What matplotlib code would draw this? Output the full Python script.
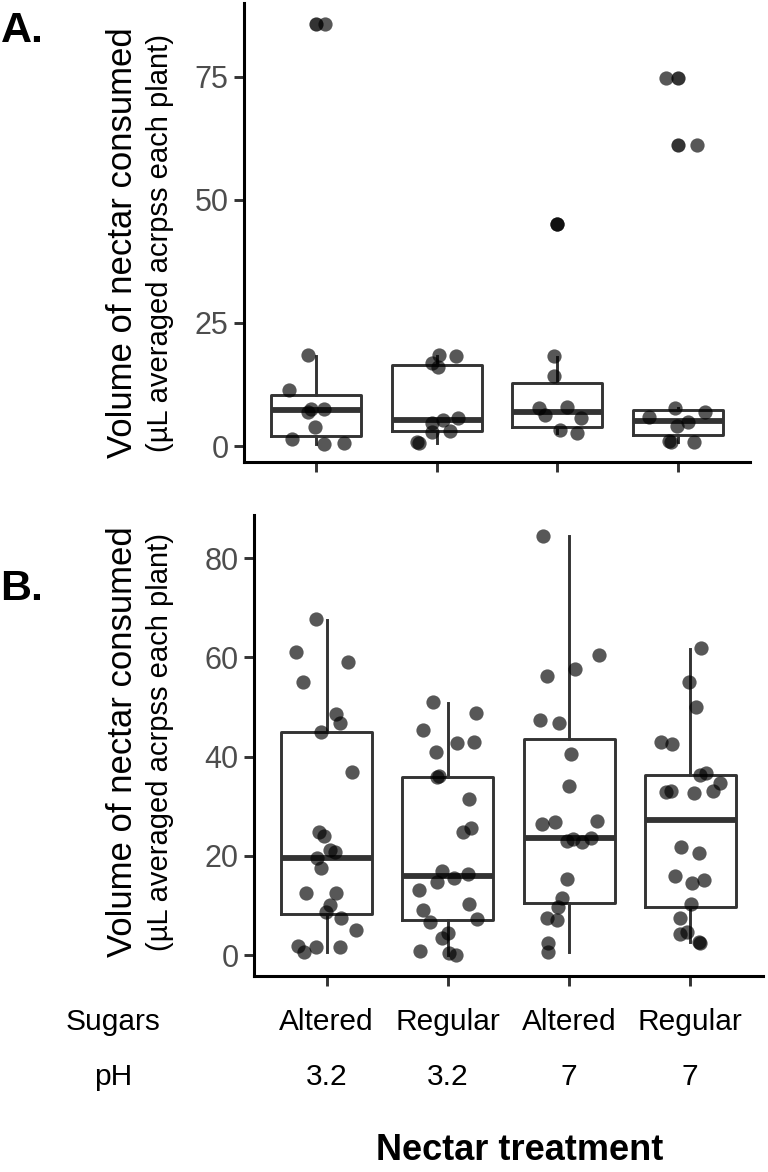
import matplotlib
matplotlib.use('Agg')
import matplotlib.pyplot as plt
import matplotlib.transforms as mtransforms

plt.rcParams['font.family'] = ['Liberation Sans', 'DejaVu Sans']

# ---------------- data ----------------
sugars = ['Altered', 'Regular', 'Altered', 'Regular']
ph_vals = ['3.2', '3.2', '7', '7']
a_yticks = [0, 25, 50, 75]
b_yticks = [0, 20, 40, 60, 80]

# Panel A box statistics
a_whislo = [0.5, 0.7, 2.6, 0.9]
a_q1 = [2.1, 3.1, 3.9, 2.2]
a_med = [7.25, 5.3, 6.9, 5.1]
a_q3 = [10.4, 16.5, 12.7, 7.3]
a_whishi = [18.3, 18.3, 18.0, 7.7]
a_outliers = [[85.8], [], [45.1], [74.7, 61.2]]

# Panel A jittered points (values, horizontal jitter)
a1_vals = [85.8, 18.4, 11.4, 7.0, 7.6, 7.6, 3.9, 1.35, 0.5, 0.7]
a1_jit = [0.072, -0.072, -0.224, -0.072, -0.044, 0.060, -0.008, -0.201, 0.060, 0.226]
a2_vals = [18.5, 18.2, 16.9, 16.1, 4.7, 5.3, 5.6, 2.9, 3.1, 0.9, 0.7]
a2_jit = [0.019, 0.157, -0.041, 0.013, -0.036, 0.055, 0.176, -0.041, 0.108, -0.161, -0.151]
a3_vals = [45.1, 18.2, 14.2, 7.7, 8.0, 6.3, 5.6, 3.25, 2.6]
a3_jit = [0.0, -0.025, -0.025, -0.152, 0.083, -0.102, 0.194, 0.022, 0.161]
a4_vals = [74.7, 61.2, 7.7, 7.0, 5.8, 4.9, 4.1, 1.0, 0.9, 0.9]
a4_jit = [-0.094, 0.163, -0.019, 0.224, -0.240, 0.083, -0.006, -0.075, -0.058, 0.133]

# Panel B box statistics
b_whislo = [0.6, 0.0, 0.7, 2.6]
b_q1 = [8.2, 7.0, 10.5, 9.7]
b_med = [19.6, 15.9, 23.7, 27.2]
b_q3 = [45.0, 35.9, 43.5, 36.4]
b_whishi = [67.6, 50.9, 84.5, 61.7]

# Panel B jittered points
b1_vals = [67.7, 61.0, 59.1, 55.1, 48.5, 46.7, 44.9, 37.0, 24.9, 24.1, 21.2, 20.7,
           19.5, 17.6, 12.6, 12.6, 10.2, 8.6, 7.5, 5.0, 1.8, 0.6, 1.7, 1.7]
b1_jit = [-0.088, -0.256, 0.176, -0.196, 0.080, 0.113, -0.050, 0.209, -0.064, -0.025, 0.031, 0.072,
          -0.083, -0.044, -0.167, 0.077, 0.025, -0.008, 0.116, 0.245, -0.237, -0.190, -0.091, 0.107]
b2_vals = [51.1, 48.9, 45.4, 42.7, 43.0, 41.0, 35.9, 36.1, 31.5, 25.7, 24.9, 17.0, 14.8,
           15.6, 16.3, 13.2, 10.4, 9.2, 7.3, 6.7, 4.4, 3.4, 0.8, 0.5, 0.0]
b2_jit = [-0.126, 0.231, -0.209, 0.072, 0.215, -0.099, -0.088, -0.074, 0.176, 0.187, 0.121, -0.052, -0.093,
          0.052, 0.163, -0.237, 0.176, -0.209, 0.242, -0.149, 0.002, -0.047, -0.231, 0.011, 0.066]
b3_vals = [84.5, 60.5, 57.7, 56.3, 47.4, 46.7, 40.5, 34.1, 26.4, 26.9, 27.1, 23.0, 23.4,
           22.8, 23.7, 15.3, 11.6, 9.7, 7.5, 7.1, 2.5, 0.7]
b3_jit = [-0.215, 0.248, 0.050, -0.184, -0.242, -0.085, 0.014, 0.002, -0.220, -0.116, 0.233, -0.014, 0.035,
          0.105, 0.179, -0.019, -0.055, -0.088, -0.184, -0.097, -0.171, -0.171]
b4_vals = [61.8, 55.1, 50.1, 43.0, 42.5, 36.3, 36.8, 34.6, 33.1, 32.9, 33.1, 32.6, 21.7,
           20.6, 16.0, 14.6, 15.1, 10.4, 7.5, 4.2, 4.6, 2.7, 2.5]
b4_jit = [0.092, -0.010, 0.051, -0.243, -0.150, 0.078, 0.128, 0.243, 0.188, -0.202, -0.163, 0.029, -0.078,
          0.073, -0.128, 0.015, 0.111, 0.004, -0.087, -0.087, -0.031, 0.070, 0.078]

# ---------------- figure ----------------
W, H = 768, 1172
fig = plt.figure(figsize=(W / 100, H / 100), dpi=100)

def fx(px):
    return px / W

def fy(py):
    return 1 - py / H

ax_a = fig.add_axes([fx(244), fy(462), fx(750) - fx(244), fy(3) - fy(462)])
ax_b = fig.add_axes([fx(254), fy(976), fx(763) - fx(254), fy(515) - fy(976)])

BOX_COL = '#333333'
PT_COL = '#000000'
PT_ALPHA = 0.66
PT_SIZE = 105
LW = 2.1

def draw_panel(ax, whislo, q1, med, q3, whishi, fliers, vals_list, jit_list, yticks, ylim):
    stats = []
    for i in range(4):
        stats.append(dict(med=med[i], q1=q1[i], q3=q3[i], whislo=whislo[i], whishi=whishi[i],
                          fliers=fliers[i]))
    ax.bxp(stats, positions=[1, 2, 3, 4], widths=0.75, showcaps=False,
           boxprops=dict(color=BOX_COL, linewidth=LW),
           whiskerprops=dict(color=BOX_COL, linewidth=LW),
           medianprops=dict(color=BOX_COL, linewidth=4.2, solid_capstyle='butt'),
           flierprops=dict(marker='o', markerfacecolor=BOX_COL, markeredgecolor='none',
                           markersize=10.2))
    for i, (vals, jit) in enumerate(zip(vals_list, jit_list)):
        xs = [i + 1 + j for j in jit]
        ax.scatter(xs, vals, s=PT_SIZE, color=PT_COL, alpha=PT_ALPHA, linewidths=0, zorder=3)
    ax.set_xlim(0.4, 4.6)
    ax.set_ylim(*ylim)
    ax.set_xticks([1, 2, 3, 4])
    ax.set_xticklabels([])
    ax.set_yticks(yticks)
    ax.set_yticklabels([str(t) for t in yticks])
    for s in ['top', 'right']:
        ax.spines[s].set_visible(False)
    for s in ['left', 'bottom']:
        ax.spines[s].set_linewidth(2.2)
        ax.spines[s].set_color('black')
    ax.tick_params(axis='both', length=7, width=2.1, color=BOX_COL,
                   labelsize=22, labelcolor='#4d4d4d', pad=4)
    ax.patch.set_alpha(0)

draw_panel(ax_a, a_whislo, a_q1, a_med, a_q3, a_whishi, a_outliers,
           [a1_vals, a2_vals, a3_vals, a4_vals], [a1_jit, a2_jit, a3_jit, a4_jit],
           a_yticks, (-3.25, 90.0))
draw_panel(ax_b, b_whislo, b_q1, b_med, b_q3, b_whishi, [[], [], [], []],
           [b1_vals, b2_vals, b3_vals, b4_vals], [b1_jit, b2_jit, b3_jit, b4_jit],
           b_yticks, (-4.2, 88.7))

# y labels
for yc in (243, 742):
    fig.text(fx(122), fy(yc), 'Volume of nectar consumed', rotation=90,
             ha='center', va='center', fontsize=25, color='black')
    fig.text(fx(160), fy(yc), '(µL averaged acrpss each plant)', rotation=90,
             ha='center', va='center', fontsize=21, color='black')

# panel tags
fig.text(fx(22), fy(31), 'A.', ha='center', va='center', fontsize=31, fontweight='bold')
fig.text(fx(22), fy(589), 'B.', ha='center', va='center', fontsize=31, fontweight='bold')

# treatment table below panel B
trans = mtransforms.blended_transform_factory(ax_b.transData, fig.transFigure)
fig.text(fx(113), fy(1022), 'Sugars', ha='center', va='center', fontsize=21.5)
fig.text(fx(113), fy(1077), 'pH', ha='center', va='center', fontsize=21.5)
for i in range(4):
    fig.text(i + 1, fy(1022), sugars[i], ha='center', va='center', fontsize=21.5, transform=trans)
    fig.text(i + 1, fy(1077), ph_vals[i], ha='center', va='center', fontsize=21.5, transform=trans)
fig.text(fx(520), fy(1150), 'Nectar treatment', ha='center', va='center',
         fontsize=26, fontweight='bold')

fig.savefig('out.png', dpi=100)
